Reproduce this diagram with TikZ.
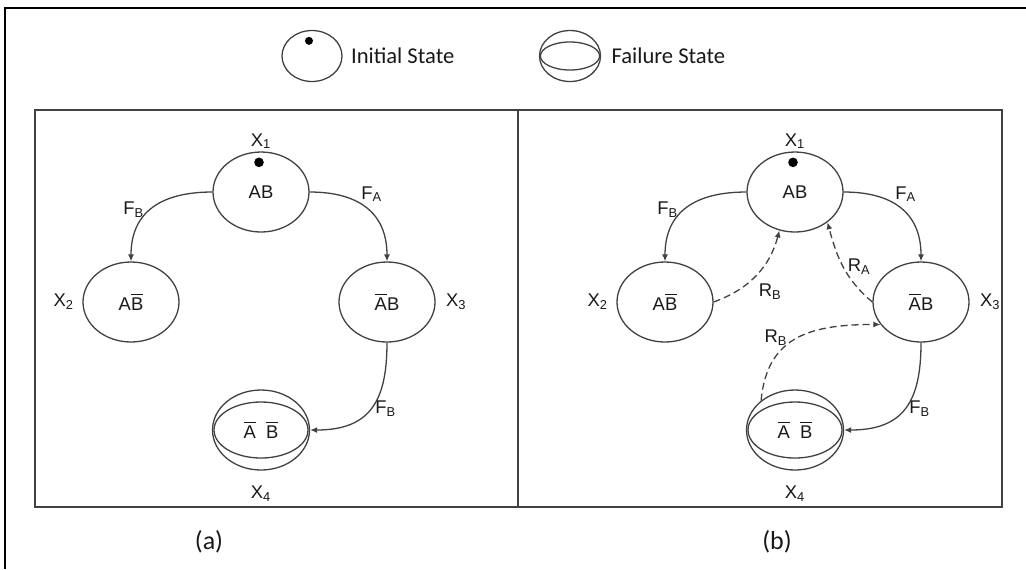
\documentclass[tikz,border=0pt]{standalone}
\usepackage{fontspec}
\setmainfont{Liberation Sans}
\newfontfamily\legendfont{Carlito}
\usetikzlibrary{shapes.geometric,arrows.meta,positioning}
\definecolor{linegray}{RGB}{65,65,65}
\definecolor{inkgray}{RGB}{25,25,25}
\newcommand{\nb}[1]{$\overline{\mbox{#1}}$}
\begin{document}
\begin{tikzpicture}[x=0.5pt, y=-0.5pt, >={Latex[length=3.5pt,width=3pt]},
    state/.style={ellipse, draw=linegray, line width=0.65pt, minimum width=48pt,
        minimum height=40pt, inner sep=0pt, text=inkgray, font=\fontsize{9.2}{10}\selectfont},
    lbl/.style={text=inkgray, font=\fontsize{9.2}{10}\selectfont, inner sep=1pt},
    legtext/.style={text=inkgray, font=\legendfont\fontsize{11.3}{13}\selectfont, inner sep=0pt},
    trans/.style={->, draw=linegray, line width=0.65pt},
    repair/.style={trans, dash pattern=on 3.5pt off 2pt}]
        % --- SETTINGS ---
        \def\partshift{534}
        \useasboundingbox (0,0) rectangle (1026,569);

        % Frames
        \draw[line width=1.3pt] (5,569) -- (5,8) -- (1026,8);
        \draw[linegray, line width=0.8pt] (35,110) rectangle (1002,507);
        \draw[linegray, line width=0.8pt] (518,110) -- (518,507);

        % =========================================
        % LEGEND (Top)
        % =========================================
        \node[state, minimum width=30pt, minimum height=25.5pt] (initleg) at (312,56) {};
        \fill (initleg.north) ++(-3,11) circle (2pt);
        \node[legtext, right=4pt of initleg] (initlegtext) {Initial State};

        \node[state, minimum width=30.5pt, minimum height=25.5pt] (failleg) at (570,56) {};
        \draw[linegray, line width=0.65pt] (failleg.center) ellipse (14.8pt and 7pt);
        \node[legtext, right=5pt of failleg] (faillegtext) {Failure State};

        % =========================================
        % PART (a) WITHOUT REPAIR (Left)
        % =========================================
        \begin{scope}
            % States
            \node[state, label={[lbl, label distance=0pt]above:X\textsubscript{1}}] (x1a) at (261,192) {AB};
            \fill (x1a.north) ++(-2,11) circle (2.4pt);
            \node[state, label={[lbl, label distance=3pt]left:X\textsubscript{2}}] (x2a) at (131,302) {A\nb{B}};
            \node[state, label={[lbl, label distance=4pt]right:X\textsubscript{3}}] (x3a) at (387,302) {\nb{A}B};
            \node[state, minimum width=48.5pt, label={[lbl, label distance=6.5pt]below:X\textsubscript{4}}] (x4a) at (261,430) {\nb{A}\hspace{5pt}\nb{B}};
            \draw[linegray, line width=0.65pt] (x4a.center) ellipse (23.5pt and 14pt);

            % Failures
            \draw[trans] (x1a.west) to[out=180, in=90, looseness=1.2] node[lbl, midway, left=3pt, yshift=-1pt] {F\textsubscript{B}} (x2a.north);
            \draw[trans] (x1a.east) to[out=0, in=90, looseness=1.2] node[lbl, pos=0.42, anchor=south west, inner sep=0.5pt] {F\textsubscript{A}} (x3a.north);
            \draw[trans] (x3a.south) to[out=-90, in=0, looseness=1.3] node[lbl, midway, right=1pt] {F\textsubscript{B}} (x4a.east);

            \node[legtext, font=\legendfont\fontsize{13}{15}\selectfont] (capa) at (209,542) {(a)};
        \end{scope}

        % =========================================
        % PART (b) WITH REPAIR (Right)
        % =========================================
        \begin{scope}[shift={(\partshift,0)}]
            % States
            \node[state, label={[lbl, label distance=0pt]above:X\textsubscript{1}}] (x1b) at (261,192) {AB};
            \fill (x1b.north) ++(-2,11) circle (2.4pt);
            \node[state, label={[lbl, label distance=3pt]left:X\textsubscript{2}}] (x2b) at (131,302) {A\nb{B}};
            \node[state, label={[lbl, label distance=4pt]right:X\textsubscript{3}}] (x3b) at (387,302) {\nb{A}B};
            \node[state, minimum width=48.5pt, label={[lbl, label distance=6.5pt]below:X\textsubscript{4}}] (x4b) at (261,430) {\nb{A}\hspace{5pt}\nb{B}};
            \draw[linegray, line width=0.65pt] (x4b.center) ellipse (23.5pt and 14pt);

            % Failures
            \draw[trans] (x1b.west) to[out=180, in=90, looseness=1.2] node[lbl, midway, left=3pt, yshift=-1pt] {F\textsubscript{B}} (x2b.north);
            \draw[trans] (x1b.east) to[out=0, in=90, looseness=1.2] node[lbl, pos=0.42, anchor=south west, inner sep=0.5pt] {F\textsubscript{A}} (x3b.north);
            \draw[trans] (x3b.south) to[out=-90, in=0, looseness=1.3] node[lbl, midway, right=1pt] {F\textsubscript{B}} (x4b.east);

            % Repairs (dashed)
            \draw[repair] (x2b.east) to[out=20, in=-105] node[lbl, midway, below right=0pt, yshift=-3pt] {R\textsubscript{B}} (x1b.-112);
            \draw[repair] (x3b.west) to[out=140, in=-75] node[lbl, midway, right=1pt] {R\textsubscript{A}} (x1b.-43);
            \draw[repair] (x4b.139) to[out=85, in=180, looseness=1.2] node[lbl, midway, left=4pt] {R\textsubscript{B}} (x3b.-151);

            \node[legtext, font=\legendfont\fontsize{13}{15}\selectfont] (capb) at (243,542) {(b)};
        \end{scope}

    \end{tikzpicture}
\end{document}
